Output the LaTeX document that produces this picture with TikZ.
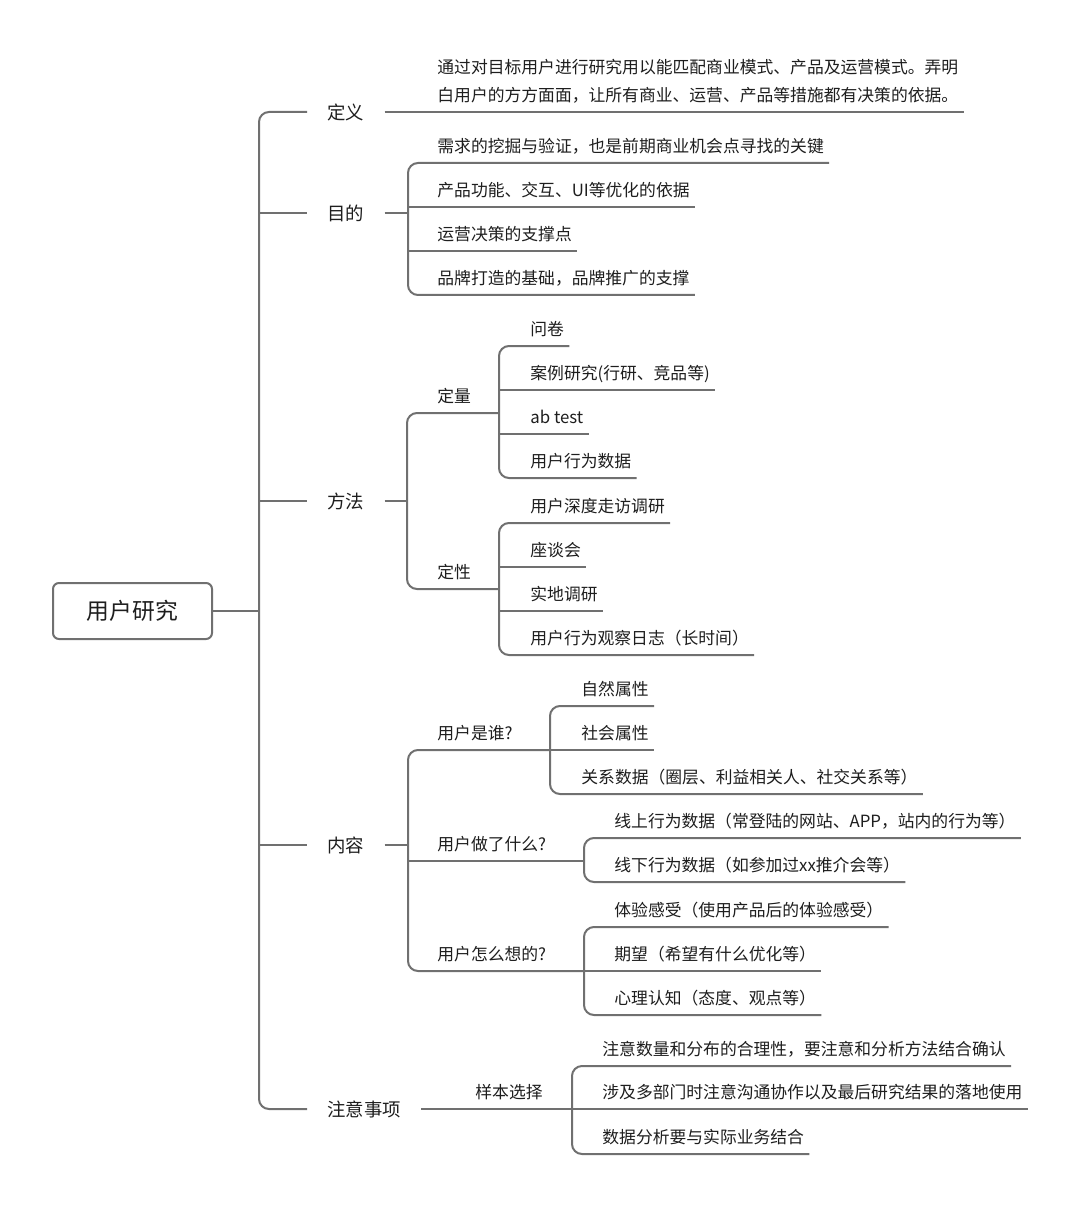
\documentclass[tikz,border=0pt]{standalone}
\usepackage{fontspec}
\newfontfamily\cjk{Noto Sans CJK SC}
\usetikzlibrary{positioning}
\definecolor{trait}{RGB}{112,112,112}
\definecolor{texte}{RGB}{30,30,30}

\begin{document}
\begin{tikzpicture}[
    x=0.5pt, y=-0.5pt,
    every node/.style={text=texte},
    racine/.style={draw=trait, line width=1pt, rounded corners=3pt, minimum width=79.5pt, minimum height=28pt, font=\cjk\fontsize{11.4}{13}\selectfont},
    branche/.style={anchor=west, inner xsep=10pt, inner ysep=0pt, font=\cjk\fontsize{9.2}{11}\selectfont},
    feuille/.style={anchor=south west, inner xsep=2.5pt, inner ysep=0pt, text depth=5.25pt, font=\cjk\fontsize{8.4}{14}\selectfont},
    lien/.style={draw=trait, line width=1pt, rounded corners=5pt}
]
    \useasboundingbox[fill=white] (0,0) rectangle (1080,1208);

    % --- Racine et tronc ---
    \node[racine] (racine) at (132.5,611) {用户研究};
    \coordinate (tronc) at (259,611);

    \node[branche] (def) at (307,112) {定义};
    \node[branche] (but) at (307,213) {目的};
    \node[branche] (methode) at (307,501) {方法};
    \node[branche] (contenu) at (307,845) {内容};
    \node[branche] (notes) at (307,1109) {注意事项};

    \draw[lien] (racine.east) -- (tronc);
    \draw[lien] (def.west) -- (tronc |- def.west) -- (tronc |- notes.west) -- (notes.west);
    \draw[lien] (tronc |- but.west) -- (but.west);
    \draw[lien] (tronc |- methode.west) -- (methode.west);
    \draw[lien] (tronc |- contenu.west) -- (contenu.west);

    % --- Définition ---
    \node[feuille, align=left] (defTexte) at (432,112) {通过对目标用户进行研究用以能匹配商业模式、产品及运营模式。弄明\\白用户的方方面面，让所有商业、运营、产品等措施都有决策的依据。};
    \draw[lien] (def.east) -- (defTexte.south east);

    % --- Objectifs ---
    \coordinate (butB) at (408,213);
    \node[feuille] (but1) at (432,163) {需求的挖掘与验证，也是前期商业机会点寻找的关键};
    \node[feuille] (but2) at (432,207) {产品功能、交互、UI等优化的依据};
    \node[feuille] (but3) at (432,251) {运营决策的支撑点};
    \node[feuille] (but4) at (432,295) {品牌打造的基础，品牌推广的支撑};

    \draw[lien] (but.east) -- (butB);
    \draw[lien] (but1.south east) -- (butB |- but1.south) -- (butB |- but4.south) -- (but4.south east);
    \draw[lien] (butB |- but2.south) -- (but2.south east);
    \draw[lien] (butB |- but3.south) -- (but3.south east);

    % --- Méthodes ---
    \coordinate (methB) at (407,501);
    \node[feuille] (quant) at (432,413) {定量};
    \node[feuille] (qual) at (432,589) {定性};
    \coordinate (quantB) at (499,413);
    \coordinate (qualB) at (499,589);

    \draw[lien] (methode.east) -- (methB);
    \draw[lien] (quantB) -- (methB |- quantB) -- (methB |- qualB) -- (qualB);

    \node[feuille] (quant1) at (525,346) {问卷};
    \node[feuille] (quant2) at (525,390) {案例研究(行研、竞品等)};
    \node[feuille] (quant3) at (525,434) {ab test};
    \node[feuille] (quant4) at (525,478) {用户行为数据};

    \draw[lien] (quant1.south east) -- (quantB |- quant1.south) -- (quantB |- quant4.south) -- (quant4.south east);
    \draw[lien] (quantB |- quant2.south) -- (quant2.south east);
    \draw[lien] (quantB |- quant3.south) -- (quant3.south east);

    \node[feuille] (qual1) at (525,523) {用户深度走访调研};
    \node[feuille] (qual2) at (525,567) {座谈会};
    \node[feuille] (qual3) at (525,611) {实地调研};
    \node[feuille] (qual4) at (525,655) {用户行为观察日志（长时间）};

    \draw[lien] (qual1.south east) -- (qualB |- qual1.south) -- (qualB |- qual4.south) -- (qual4.south east);
    \draw[lien] (qualB |- qual2.south) -- (qual2.south east);
    \draw[lien] (qualB |- qual3.south) -- (qual3.south east);

    % --- Contenu ---
    \coordinate (contB) at (408,845);
    \node[feuille] (qui) at (432,750) {用户是谁?};
    \node[feuille] (fait) at (432,861) {用户做了什么?};
    \node[feuille] (pense) at (432,971) {用户怎么想的?};
    \coordinate (quiB) at (550,750);
    \coordinate (faitB) at (584,861);
    \coordinate (penseB) at (584,971);

    \draw[lien] (contenu.east) -- (contB);
    \draw[lien] (quiB) -- (contB |- quiB) -- (contB |- penseB) -- (penseB);
    \draw[lien] (contB |- faitB) -- (faitB);

    \node[feuille] (qui1) at (576,706) {自然属性};
    \node[feuille] (qui2) at (576,750) {社会属性};
    \node[feuille] (qui3) at (576,794) {关系数据（圈层、利益相关人、社交关系等）};

    \draw[lien] (qui1.south east) -- (quiB |- qui1.south) -- (quiB |- qui3.south) -- (qui3.south east);
    \draw[lien] (quiB |- qui2.south) -- (qui2.south east);

    \node[feuille] (fait1) at (609,838) {线上行为数据（常登陆的网站、APP，站内的行为等）};
    \node[feuille] (fait2) at (609,882) {线下行为数据（如参加过xx推介会等）};

    \draw[lien] (fait1.south east) -- (faitB |- fait1.south) -- (faitB |- fait2.south) -- (fait2.south east);

    \node[feuille] (pense1) at (609,927) {体验感受（使用产品后的体验感受）};
    \node[feuille] (pense2) at (609,971) {期望（希望有什么优化等）};
    \node[feuille] (pense3) at (609,1015) {心理认知（态度、观点等）};

    \draw[lien] (pense1.south east) -- (penseB |- pense1.south) -- (penseB |- pense3.south) -- (pense3.south east);
    \draw[lien] (penseB |- pense2.south) -- (pense2.south east);

    % --- Points d'attention ---
    \node[feuille] (echant) at (470,1109) {样本选择};
    \coordinate (echantB) at (572,1109);
    \draw[lien] (notes.east) -- (echantB);

    \node[feuille] (echant1) at (597,1066) {注意数量和分布的合理性，要注意和分析方法结合确认};
    \node[feuille] (echant2) at (597,1109) {涉及多部门时注意沟通协作以及最后研究结果的落地使用};
    \node[feuille] (echant3) at (597,1154) {数据分析要与实际业务结合};

    \draw[lien] (echant1.south east) -- (echantB |- echant1.south) -- (echantB |- echant3.south) -- (echant3.south east);
    \draw[lien] (echantB) -- (echant2.south east);

\end{tikzpicture}
\end{document}
